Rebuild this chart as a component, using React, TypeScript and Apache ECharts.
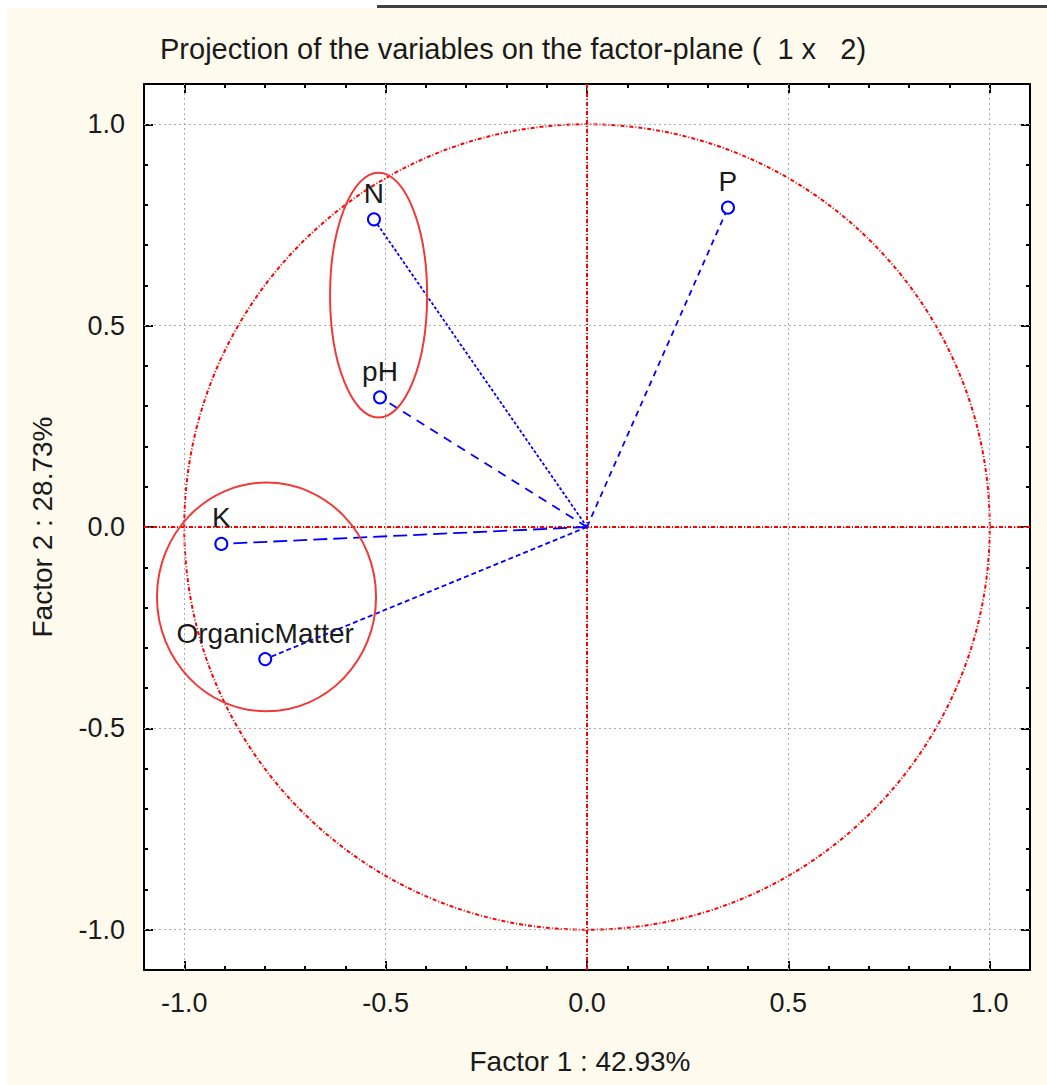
import React, { useEffect, useRef } from "react";
import * as echarts from "echarts";

// ---- data ----
const variables = ["N", "P", "pH", "K", "OrganicMatter"];
const factor1 = [-0.529, 0.35, -0.514, -0.908, -0.799];
const factor2 = [0.764, 0.793, 0.322, -0.042, -0.328];
const majorTicks = [-1.0, -0.5, 0.0, 0.5, 1.0];
// highlight ellipses: [centre f1, centre f2, radius f1, radius f2]
const ellipseCx = [-0.5175, -0.7958];
const ellipseCy = [0.5757, -0.1737];
const ellipseRx = [0.1205, 0.272];
const ellipseRy = [0.304, 0.284];
const unitCircle = [[0, 0, 1, 1]];

const FONT = "'Liberation Sans', Arial, sans-serif";
const TXT = "#1a1a1a";
const BLUE = "#0000ff";
const RED = "#ff0000";
const dashes: Record<string, number[]> = {
  N: [3, 2],
  P: [6, 5],
  pH: [9, 7],
  K: [14, 6],
  OrganicMatter: [5, 3],
};

const AXMIN = -1.1;
const AXMAX = 1.1;

function minorAxis(position: string, label: boolean, extra: any = {}) {
  return {
    type: "value",
    min: AXMIN,
    max: AXMAX,
    interval: 0.1,
    position,
    axisLine: { show: true, onZero: false, lineStyle: { color: "#000", width: 2 } },
    axisTick: { show: true, inside: true, length: 4, lineStyle: { color: "#000", width: 2 } },
    axisLabel: label
      ? {
          show: true,
          customValues: majorTicks,
          formatter: (v: number) => v.toFixed(1),
          fontFamily: FONT,
          fontSize: 27,
          color: TXT,
          margin: 19,
        }
      : { show: false },
    splitLine: { show: false },
    ...extra,
  };
}

function majorAxis(position: string) {
  return {
    type: "value",
    min: AXMIN,
    max: AXMAX,
    position,
    axisLine: { show: false, onZero: false },
    axisTick: {
      show: true,
      inside: true,
      length: 9,
      customValues: majorTicks,
      lineStyle: { color: "#000", width: 2 },
    },
    axisLabel: { show: false },
    splitLine: { show: false },
  };
}

function ellipseRender(stroke: string, width: number, dash: any) {
  return (params: any, api: any) => {
    const c = api.coord([api.value(0), api.value(1)]);
    const s = api.size([api.value(2), api.value(3)]);
    return {
      type: "ellipse",
      shape: { cx: c[0], cy: c[1], rx: Math.abs(s[0]), ry: Math.abs(s[1]) },
      style: { fill: "none", stroke, lineWidth: width, lineDash: dash },
    };
  };
}

export default function App() {
  const ref = useRef<HTMLDivElement>(null);
  useEffect(() => {
    if (!ref.current) return;
    const chart = echarts.init(ref.current, null, { renderer: "svg" });

    const vectorSeries = variables.map((name, i) => ({
      type: "line",
      name,
      z: 5,
      xAxisIndex: 0,
      yAxisIndex: 0,
      data: [
        { value: [0, 0], symbol: "none", label: { show: false } },
        {
          value: [factor1[i], factor2[i]],
          symbol: "circle",
          symbolSize: 12,
          label: {
            show: true,
            position: "top",
            distance: 5,
            formatter: name,
            fontFamily: FONT,
            fontSize: 28,
            color: TXT,
          },
        },
      ],
      showSymbol: true,
      itemStyle: { color: "#ffffff", borderColor: BLUE, borderWidth: 2 },
      lineStyle: { color: BLUE, width: 1.8, type: dashes[name] },
      emphasis: { disabled: true },
      silent: true,
    }));

    const gridLineData = [
      ...majorTicks.map((v) => ({ xAxis: v })),
      ...majorTicks.map((v) => ({ yAxis: v })),
    ];

    chart.setOption({
      animation: false,
      backgroundColor: "#ffffff",
      graphic: [
        {
          type: "rect",
          z: -100,
          silent: true,
          shape: { x: 7, y: 8, width: 1040, height: 1077 },
          style: { fill: "#fffaee" },
        },
        {
          type: "line",
          silent: true,
          shape: { x1: 377, y1: 6.5, x2: 1047, y2: 6.5 },
          style: { stroke: "#404040", lineWidth: 3 },
        },
      ],
      title: {
        text: "Projection of the variables on the factor-plane (  1 x   2)",
        left: 160,
        top: 34,
        padding: 0,
        textStyle: { fontFamily: FONT, fontSize: 29, fontWeight: "normal", color: TXT },
      },
      grid: {
        left: 144,
        top: 84,
        right: 17,
        bottom: 115,
        show: true,
        backgroundColor: "#ffffff",
        borderWidth: 0,
      },
      xAxis: [
        minorAxis("bottom", true, {
          name: "Factor 1 : 42.93%",
          nameLocation: "middle",
          nameGap: 77,
          nameTextStyle: { fontFamily: FONT, fontSize: 28, color: TXT, padding: [0, 14, 0, 0] },
        }),
        majorAxis("bottom"),
        minorAxis("top", false),
        majorAxis("top"),
      ],
      yAxis: [
        minorAxis("left", true, {
          name: "Factor 2 : 28.73%",
          nameLocation: "middle",
          nameGap: 88,
          nameRotate: 90,
          nameTextStyle: { fontFamily: FONT, fontSize: 28, color: TXT },
        }),
        majorAxis("left"),
        minorAxis("right", false),
        majorAxis("right"),
      ],
      series: [
        {
          type: "line",
          name: "grid",
          z: 1,
          data: [[0, 0]],
          symbol: "none",
          silent: true,
          markLine: {
            silent: true,
            symbol: "none",
            label: { show: false },
            lineStyle: { color: "#aaaaaa", width: 1, type: [2, 3] },
            data: gridLineData,
          },
        },
        {
          type: "custom",
          name: "unit circle",
          z: 2,
          silent: true,
          data: unitCircle,
          renderItem: ellipseRender(RED, 2, [4, 2, 1, 2]),
        },
        {
          type: "line",
          name: "zero",
          z: 3,
          data: [[0, 0]],
          symbol: "none",
          silent: true,
          markLine: {
            silent: true,
            symbol: "none",
            label: { show: false },
            lineStyle: { color: RED, width: 2, type: [4, 2, 1, 2] },
            data: [{ xAxis: 0 }, { yAxis: 0 }],
          },
        },
        ...vectorSeries,
        {
          type: "custom",
          name: "groups",
          z: 6,
          silent: true,
          data: ellipseCx.map((cx, i) => [cx, ellipseCy[i], ellipseRx[i], ellipseRy[i]]),
          renderItem: ellipseRender("#f03a3a", 2, null),
        },
      ],
    });
    return () => chart.dispose();
  }, []);
  return (
    <div
      ref={ref}
      style={{ position: "absolute", left: 0, top: 0, width: 1047, height: 1085 }}
    />
  );
}
